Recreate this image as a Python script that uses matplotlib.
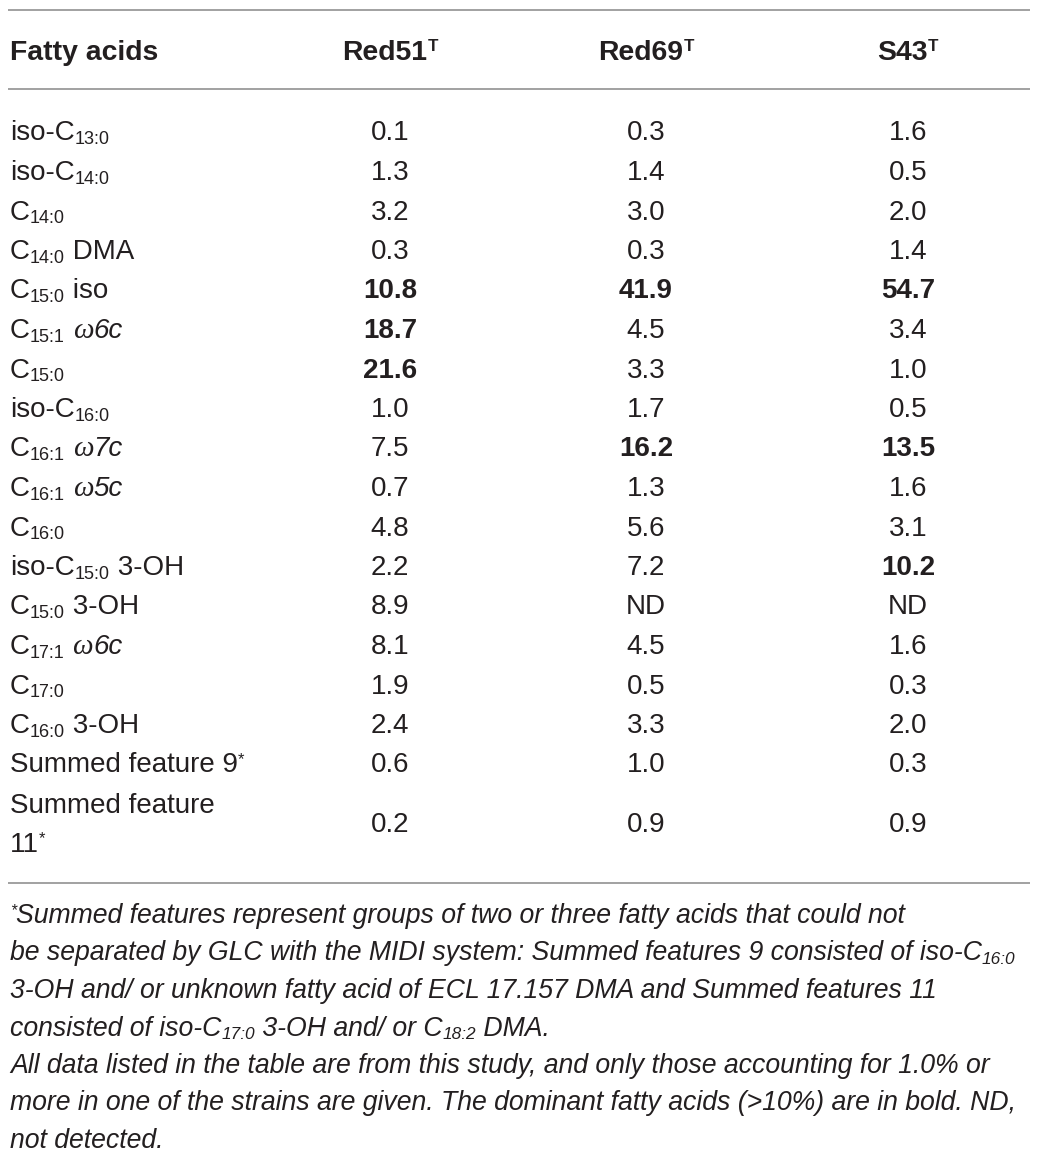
import re
import matplotlib
matplotlib.use("Agg")
import matplotlib.pyplot as plt
from matplotlib.font_manager import FontProperties

# ---------------- data ----------------
fatty_acids = [
    "iso-C_{13:0}", "iso-C_{14:0}", "C_{14:0}", "C_{14:0} DMA", "C_{15:0} iso",
    "C_{15:1} %{ω}~{6c}", "C_{15:0}", "iso-C_{16:0}", "C_{16:1} %{ω}~{7c}", "C_{16:1} %{ω}~{5c}",
    "C_{16:0}", "iso-C_{15:0} 3-OH", "C_{15:0} 3-OH", "C_{17:1} %{ω}~{6c}", "C_{17:0}",
    "C_{16:0} 3-OH", "Summed feature 9^{*}", "Summed feature\n11^{*}",
]
strains = ["Red51^{T}", "Red69^{T}", "S43^{T}"]
red51 = ["0.1", "1.3", "3.2", "0.3", "10.8", "18.7", "21.6", "1.0", "7.5", "0.7",
         "4.8", "2.2", "8.9", "8.1", "1.9", "2.4", "0.6", "0.2"]
red69 = ["0.3", "1.4", "3.0", "0.3", "41.9", "4.5", "3.3", "1.7", "16.2", "1.3",
         "5.6", "7.2", "ND", "4.5", "0.5", "3.3", "1.0", "0.9"]
s43 = ["1.6", "0.5", "2.0", "1.4", "54.7", "3.4", "1.0", "0.5", "13.5", "1.6",
       "3.1", "10.2", "ND", "1.6", "0.3", "2.0", "0.3", "0.9"]
header_first = "Fatty acids"
footnote_lines = [
    "^{*}Summed features represent groups of two or three fatty acids that could not",
    "be separated by GLC with the MIDI system: Summed features 9 consisted of iso-C_{16:0}",
    "3-OH and/ or unknown fatty acid of ECL 17.157 DMA and Summed features 11",
    "consisted of iso-C_{17:0} 3-OH and/ or C_{18:2} DMA.",
    "All data listed in the table are from this study, and only those accounting for 1.0% or",
    "more in one of the strains are given. The dominant fatty acids (>10%) are in bold. ND,",
    "not detected.",
]

# ---------------- style ----------------
W, H = 1040, 1158
FONT = "Liberation Sans"
SERIF = "Liberation Serif"
TXT = "#231f20"
LINE = "#9a9a9a"
BODY = 20.0

fig = plt.figure(figsize=(W / 100, H / 100), dpi=100)
ax = fig.add_axes([0, 0, 1, 1])
ax.set_xlim(0, W)
ax.set_ylim(H, 0)
ax.axis("off")
renderer = fig.canvas.get_renderer()

TOK = re.compile(r"(_\{[^}]*\}|\^\{[^}]*\}|~\{[^}]*\}|%\{[^}]*\})")


def parse(s):
    out = []
    for p in TOK.split(s):
        if not p:
            continue
        if p.startswith("_{"):
            out.append((p[2:-1], "sub"))
        elif p.startswith("^{"):
            out.append((p[2:-1], "sup"))
        elif p.startswith("~{"):
            out.append((p[2:-1], "it"))
        elif p.startswith("%{"):
            out.append((p[2:-1], "serif"))
        else:
            out.append((p, "n"))
    return out


def fprop(size, weight, style, family=FONT):
    return FontProperties(family=family, size=size, weight=weight, style=style)


def measure(s, fp):
    w1 = renderer.get_text_width_height_descent("|" + s + "|", fp, ismath=False)[0]
    w2 = renderer.get_text_width_height_descent("||", fp, ismath=False)[0]
    return w1 - w2


def seg_props(kind, size, weight, style):
    em = size * 100 / 72
    if kind == "sub":
        return fprop(size * 0.65, weight, style), 0.13 * em
    if kind == "sup":
        return fprop(size * 0.6, weight, style), -0.31 * em
    if kind == "it":
        return fprop(size, weight, "italic"), 0.0
    if kind == "serif":
        return fprop(size * 1.05, weight, "italic", SERIF), 0.0
    return fprop(size, weight, style), 0.0


def rich(x, y, s, size=BODY, weight="normal", style="normal", ha="left"):
    segs = parse(s)
    items = []
    total = 0.0
    for txt, kind in segs:
        fp, dy = seg_props(kind, size, weight, style)
        w = measure(txt, fp)
        items.append((txt, fp, dy, w))
        total += w
    if ha == "center":
        x -= total / 2
    for txt, fp, dy, w in items:
        ax.text(x, y + dy, txt, fontproperties=fp, color=TXT, ha="left", va="baseline")
        x += w
    return total


def hline(y):
    ax.plot([8, 1030], [y, y], color=LINE, lw=1.3, solid_capstyle="butt")


# rules
hline(10)
hline(89)
hline(883)

# header
col_x = [390, 646, 908]
rich(10, 60, header_first, size=BODY * 1.02, weight="bold")
for cx, name in zip(col_x, strains):
    rich(cx, 60, name, size=BODY * 1.02, weight="bold", ha="center")

# rows
row0, dy_row = 131.5, 39.5
cap_half = 9
columns = [red51, red69, s43]
for i, label in enumerate(fatty_acids):
    yc = row0 + dy_row * i
    if "\n" in label:
        l1, l2 = label.split("\n")
        yc = 823
        rich(10, 804 + cap_half, l1)
        rich(10, 843 + cap_half, l2)
    else:
        rich(10, yc + cap_half, label)
    for cx, col in zip(col_x, columns):
        v = col[i]
        bold = v != "ND" and float(v) > 10
        rich(cx, yc + cap_half, v, weight="bold" if bold else "normal", ha="center")

# footnote, fit italic size to first line width
fp_test = 20.0
w_test = sum(measure(t, seg_props(k, fp_test, "normal", "italic")[0])
             for t, k in parse(footnote_lines[0]))
fsize = fp_test * 895.0 / w_test
for j, line in enumerate(footnote_lines):
    rich(10, 923 + 37.5 * j, line, size=fsize, style="italic")

fig.savefig("out.png", dpi=100, facecolor="white")
